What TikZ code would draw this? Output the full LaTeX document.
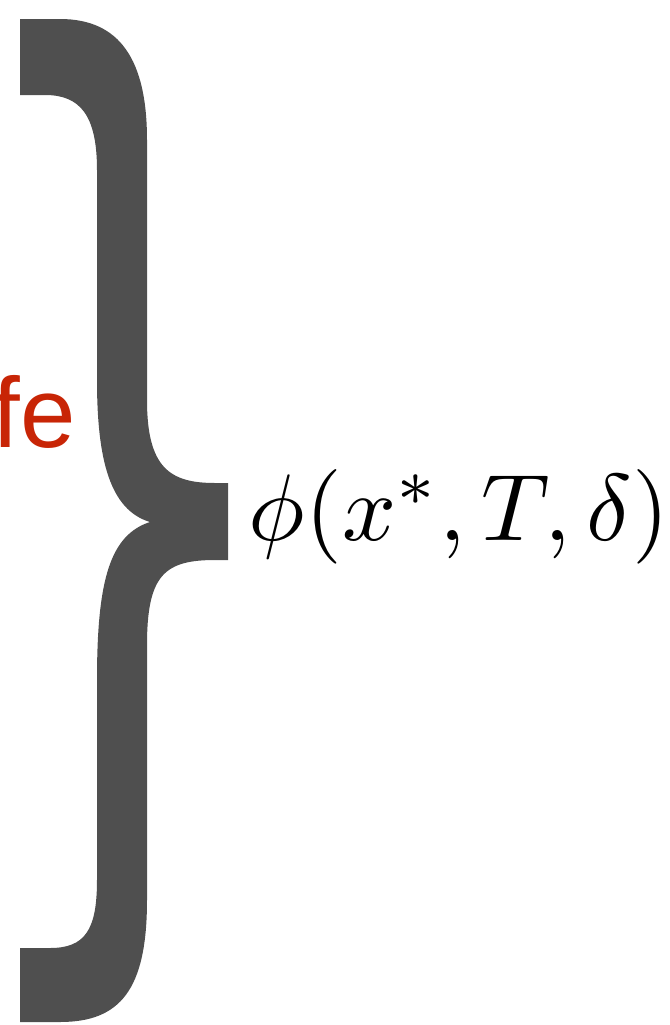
\documentclass[tikz,border=0pt]{standalone}
\usepackage{fontspec}
\newfontfamily\labelfont{Liberation Sans}
\definecolor{braceGray}{RGB}{79,79,79}
\definecolor{safeRed}{RGB}{200,37,6}
\tikzset{
  bracefill/.style={fill=braceGray, draw=none},
  redlabel/.style={text=safeRed, inner sep=0pt, font=\labelfont\fontsize{100}{110}\selectfont},
  mathlabel/.style={text=black, inner sep=0pt, font=\fontsize{10}{12}\selectfont, scale=9.5, transform shape}
}
\begin{document}
\begin{tikzpicture}[x=1bp,y=-1bp]
\useasboundingbox (0,0) rectangle (670,1025);
\clip (0,0) rectangle (670,1025);
\fill[bracefill] (20,19) -- (60,19)
  .. controls (120,19) and (147,60) .. (147,140)
  -- (147,400)
  .. controls (147,468) and (170,483) .. (215,483)
  -- (228,483) -- (228,560) -- (215,560)
  .. controls (165,560) and (148,575) .. (147,640)
  -- (147,900)
  .. controls (147,990) and (120,1022) .. (60,1022)
  -- (20,1022) -- (20,948) -- (50,948)
  .. controls (85,948) and (97,930) .. (97,880)
  -- (97,680)
  .. controls (97,580) and (110,535) .. (150,522)
  .. controls (110,510) and (97,460) .. (97,380)
  -- (97,170)
  .. controls (97,115) and (80,95) .. (45,95)
  -- (20,95) -- cycle;
\node[redlabel, anchor=base east] (safe) at (76,447) {fe};
\node[mathlabel, anchor=base west] (phi) at (247,540) {$\phi(x^*,T,\delta)$};
\end{tikzpicture}
\end{document}
